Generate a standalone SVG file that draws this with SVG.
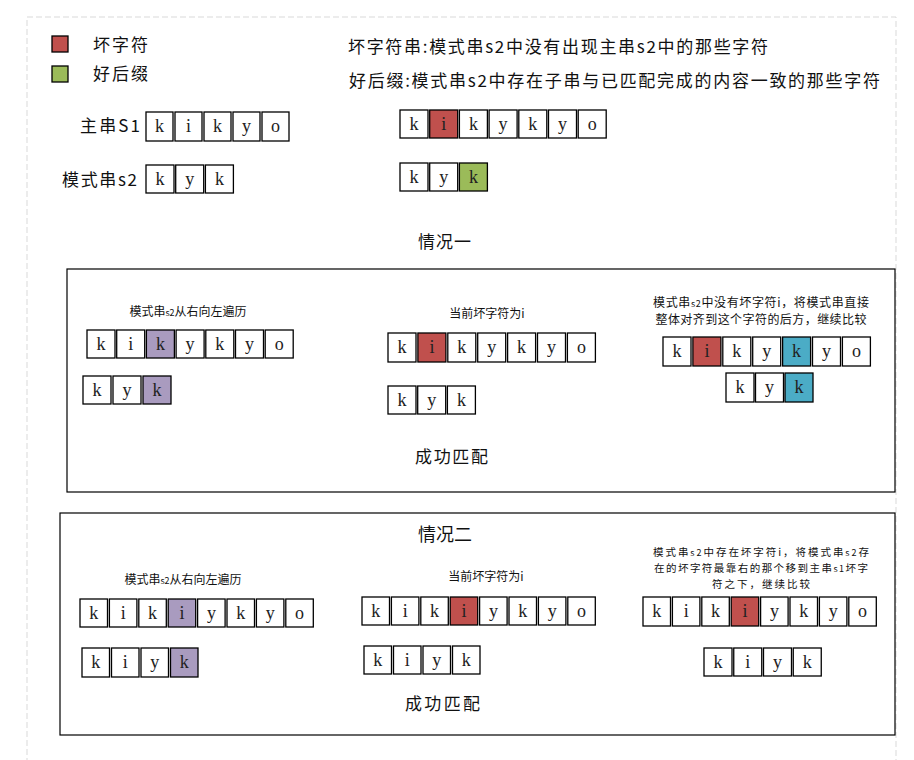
<svg xmlns="http://www.w3.org/2000/svg" width="914" height="760" viewBox="0 0 914 760">
<style>
.bg{fill:#fff}
.frame{fill:none;stroke:#d9d9d9;stroke-width:1;stroke-dasharray:6 3}
.box{fill:#fff;stroke:#000;stroke-width:1.2}
.c{fill:#fff;stroke:#000;stroke-width:1.3}
.red{fill:#c0504d}
.grn{fill:#9bbb59}
.pur{fill:#a99bbf}
.blu{fill:#4bacc6}
.l{font-family:"Liberation Serif","DejaVu Serif",serif;font-size:18px;fill:#222;text-anchor:middle}
.h{font-family:"Noto Sans CJK SC","Noto Sans",sans-serif;font-size:17px;fill:#111}
.s{font-family:"Noto Sans CJK SC","Noto Sans",sans-serif;font-size:12px;fill:#111;text-anchor:middle}
.s2{font-size:10.5px}
.sm{font-size:9px}
</style>
<rect class="bg" x="0" y="0" width="914" height="760"/>
<rect class="frame" x="27" y="17" width="869" height="760"/>

<g id="legend-bad">
<rect class="c red" x="52" y="36" width="16" height="16"/>
<text class="h" x="93" y="51" textLength="55">坏字符</text>
</g>
<g id="legend-good">
<rect class="c grn" x="52" y="66" width="16" height="16"/>
<text class="h" x="93" y="80" textLength="55">好后缀</text>
</g>
<g id="def-bad"><text class="h" x="348" y="53" textLength="420">坏字符串:模式串s2中没有出现主串s2中的那些字符</text></g>
<g id="def-good"><text class="h" x="349" y="87" textLength="531">好后缀:模式串s2中存在子串与已匹配完成的内容一致的那些字符</text></g>

<g id="label-s1"><text class="h" x="80" y="132" textLength="60">主串S1</text></g>
<g id="top-s1">
<rect class="c" x="146" y="112" width="27" height="29"/><text class="l" x="159.5" y="132">k</text>
<rect class="c" x="175" y="112" width="27" height="29"/><text class="l" x="188.5" y="132">i</text>
<rect class="c" x="204" y="112" width="27" height="29"/><text class="l" x="217.5" y="132">k</text>
<rect class="c" x="233" y="112" width="27" height="29"/><text class="l" x="246.5" y="132">y</text>
<rect class="c" x="262" y="112" width="27" height="29"/><text class="l" x="275.5" y="132">o</text>
</g>
<g id="label-s2"><text class="h" x="62" y="186" textLength="75">模式串s2</text></g>
<g id="top-s2">
<rect class="c" x="146" y="165" width="28" height="28"/><text class="l" x="160" y="185">k</text>
<rect class="c" x="175.7" y="165" width="28" height="28"/><text class="l" x="189.7" y="185">y</text>
<rect class="c" x="205.4" y="165" width="28" height="28"/><text class="l" x="219.4" y="185">k</text>
</g>

<g id="example-s1">
<rect class="c" x="400" y="110" width="28" height="28"/><text class="l" x="414" y="130">k</text>
<rect class="c red" x="429.7" y="110" width="28" height="28"/><text class="l" x="443.7" y="130">i</text>
<rect class="c" x="459.4" y="110" width="28" height="28"/><text class="l" x="473.4" y="130">k</text>
<rect class="c" x="489.1" y="110" width="28" height="28"/><text class="l" x="503.1" y="130">y</text>
<rect class="c" x="518.8" y="110" width="28" height="28"/><text class="l" x="532.8" y="130">k</text>
<rect class="c" x="548.5" y="110" width="28" height="28"/><text class="l" x="562.5" y="130">y</text>
<rect class="c" x="578.2" y="110" width="28" height="28"/><text class="l" x="592.2" y="130">o</text>
</g>
<g id="example-s2">
<rect class="c" x="400" y="163" width="28" height="28"/><text class="l" x="414" y="183">k</text>
<rect class="c" x="429.7" y="163" width="28" height="28"/><text class="l" x="443.7" y="183">y</text>
<rect class="c grn" x="459.4" y="163" width="28" height="28"/><text class="l" x="473.4" y="183">k</text>
</g>

<g id="case1-title"><text class="h" x="418" y="248" textLength="53">情况一</text></g>

<g id="case1">
<rect class="box" x="67" y="269" width="828" height="223"/>
<text class="s" x="188" y="316">模式串<tspan class="sm">s2</tspan>从右向左遍历</text>
<g id="c1-left-s1">
<rect class="c" x="87" y="330" width="28" height="28"/><text class="l" x="101" y="350">k</text>
<rect class="c" x="116.7" y="330" width="28" height="28"/><text class="l" x="130.7" y="350">i</text>
<rect class="c pur" x="146.4" y="330" width="28" height="28"/><text class="l" x="160.4" y="350">k</text>
<rect class="c" x="176.1" y="330" width="28" height="28"/><text class="l" x="190.1" y="350">y</text>
<rect class="c" x="205.8" y="330" width="28" height="28"/><text class="l" x="219.8" y="350">k</text>
<rect class="c" x="235.5" y="330" width="28" height="28"/><text class="l" x="249.5" y="350">y</text>
<rect class="c" x="265.2" y="330" width="28" height="28"/><text class="l" x="279.2" y="350">o</text>
</g>
<g id="c1-left-s2">
<rect class="c" x="83" y="376" width="28" height="28"/><text class="l" x="97" y="396">k</text>
<rect class="c" x="113" y="376" width="28" height="28"/><text class="l" x="127" y="396">y</text>
<rect class="c pur" x="143" y="376" width="28" height="28"/><text class="l" x="157" y="396">k</text>
</g>
<text class="s" x="487" y="318">当前坏字符为i</text>
<g id="c1-mid-s1">
<rect class="c" x="388" y="333" width="28" height="29"/><text class="l" x="402" y="353">k</text>
<rect class="c red" x="417.9" y="333" width="28" height="29"/><text class="l" x="431.9" y="353">i</text>
<rect class="c" x="447.8" y="333" width="28" height="29"/><text class="l" x="461.8" y="353">k</text>
<rect class="c" x="477.7" y="333" width="28" height="29"/><text class="l" x="491.7" y="353">y</text>
<rect class="c" x="507.6" y="333" width="28" height="29"/><text class="l" x="521.6" y="353">k</text>
<rect class="c" x="537.5" y="333" width="28" height="29"/><text class="l" x="551.5" y="353">y</text>
<rect class="c" x="567.4" y="333" width="28" height="29"/><text class="l" x="581.4" y="353">o</text>
</g>
<g id="c1-mid-s2">
<rect class="c" x="388" y="386" width="28" height="28"/><text class="l" x="402" y="406">k</text>
<rect class="c" x="417.7" y="386" width="28" height="28"/><text class="l" x="431.7" y="406">y</text>
<rect class="c" x="447.4" y="386" width="28" height="28"/><text class="l" x="461.4" y="406">k</text>
</g>
<text class="s" x="761" y="307" textLength="216">模式串<tspan class="sm">s2</tspan>中没有坏字符i，将模式串直接</text>
<text class="s" x="761" y="324" textLength="211">整体对齐到这个字符的后方，继续比较</text>
<g id="c1-right-s1">
<rect class="c" x="663" y="337" width="28" height="29"/><text class="l" x="677" y="357">k</text>
<rect class="c red" x="692.9" y="337" width="28" height="29"/><text class="l" x="706.9" y="357">i</text>
<rect class="c" x="722.8" y="337" width="28" height="29"/><text class="l" x="736.8" y="357">k</text>
<rect class="c" x="752.7" y="337" width="28" height="29"/><text class="l" x="766.7" y="357">y</text>
<rect class="c blu" x="782.6" y="337" width="28" height="29"/><text class="l" x="796.6" y="357">k</text>
<rect class="c" x="812.5" y="337" width="28" height="29"/><text class="l" x="826.5" y="357">y</text>
<rect class="c" x="842.4" y="337" width="28" height="29"/><text class="l" x="856.4" y="357">o</text>
</g>
<g id="c1-right-s2">
<rect class="c" x="726" y="373" width="28" height="29"/><text class="l" x="740" y="393">k</text>
<rect class="c" x="755.5" y="373" width="28" height="29"/><text class="l" x="769.5" y="393">y</text>
<rect class="c blu" x="785" y="373" width="28" height="29"/><text class="l" x="799" y="393">k</text>
</g>
<text class="h" x="415" y="463" textLength="73">成功匹配</text>
</g>

<g id="case2">
<rect class="box" x="60" y="513" width="835" height="222"/>
<text class="h" x="418" y="541" style="font-size:18px">情况二</text>
<text class="s" x="183" y="584">模式串<tspan class="sm">s2</tspan>从右向左遍历</text>
<g id="c2-left-s1">
<rect class="c" x="80" y="599" width="27.5" height="28"/><text class="l" x="93.8" y="619">k</text>
<rect class="c" x="109.4" y="599" width="27.5" height="28"/><text class="l" x="123.2" y="619">i</text>
<rect class="c" x="138.8" y="599" width="27.5" height="28"/><text class="l" x="152.6" y="619">k</text>
<rect class="c pur" x="168.2" y="599" width="27.5" height="28"/><text class="l" x="182" y="619">i</text>
<rect class="c" x="197.6" y="599" width="27.5" height="28"/><text class="l" x="211.4" y="619">y</text>
<rect class="c" x="227" y="599" width="27.5" height="28"/><text class="l" x="240.8" y="619">k</text>
<rect class="c" x="256.4" y="599" width="27.5" height="28"/><text class="l" x="270.2" y="619">y</text>
<rect class="c" x="285.8" y="599" width="27.5" height="28"/><text class="l" x="299.6" y="619">o</text>
</g>
<g id="c2-left-s2">
<rect class="c" x="82" y="648" width="27.5" height="29"/><text class="l" x="95.8" y="668">k</text>
<rect class="c" x="111.5" y="648" width="27.5" height="29"/><text class="l" x="125.3" y="668">i</text>
<rect class="c" x="141" y="648" width="27.5" height="29"/><text class="l" x="154.8" y="668">y</text>
<rect class="c pur" x="170.5" y="648" width="27.5" height="29"/><text class="l" x="184.3" y="668">k</text>
</g>
<text class="s" x="486" y="581">当前坏字符为i</text>
<g id="c2-mid-s1">
<rect class="c" x="362" y="597" width="27.5" height="28"/><text class="l" x="375.8" y="617">k</text>
<rect class="c" x="391.4" y="597" width="27.5" height="28"/><text class="l" x="405.2" y="617">i</text>
<rect class="c" x="420.8" y="597" width="27.5" height="28"/><text class="l" x="434.6" y="617">k</text>
<rect class="c red" x="450.2" y="597" width="27.5" height="28"/><text class="l" x="464" y="617">i</text>
<rect class="c" x="479.6" y="597" width="27.5" height="28"/><text class="l" x="493.4" y="617">y</text>
<rect class="c" x="509" y="597" width="27.5" height="28"/><text class="l" x="522.8" y="617">k</text>
<rect class="c" x="538.4" y="597" width="27.5" height="28"/><text class="l" x="552.2" y="617">y</text>
<rect class="c" x="567.8" y="597" width="27.5" height="28"/><text class="l" x="581.6" y="617">o</text>
</g>
<g id="c2-mid-s2">
<rect class="c" x="364" y="646" width="27.5" height="28"/><text class="l" x="377.8" y="666">k</text>
<rect class="c" x="393.5" y="646" width="27.5" height="28"/><text class="l" x="407.3" y="666">i</text>
<rect class="c" x="423" y="646" width="27.5" height="28"/><text class="l" x="436.8" y="666">y</text>
<rect class="c" x="452.5" y="646" width="27.5" height="28"/><text class="l" x="466.3" y="666">k</text>
</g>
<text class="s s2" x="761" y="556" textLength="216">模式串<tspan class="sm">s2</tspan>中存在坏字符i，将模式串<tspan class="sm">s2</tspan>存</text>
<text class="s s2" x="761" y="572" textLength="214">在的坏字符最靠右的那个移到主串<tspan class="sm">s1</tspan>坏字</text>
<text class="s s2" x="761" y="588" textLength="98">符之下，继续比较</text>
<g id="c2-right-s1">
<rect class="c" x="643" y="597" width="27.5" height="29"/><text class="l" x="656.8" y="617">k</text>
<rect class="c" x="672.4" y="597" width="27.5" height="29"/><text class="l" x="686.2" y="617">i</text>
<rect class="c" x="701.8" y="597" width="27.5" height="29"/><text class="l" x="715.6" y="617">k</text>
<rect class="c red" x="731.2" y="597" width="27.5" height="29"/><text class="l" x="745" y="617">i</text>
<rect class="c" x="760.6" y="597" width="27.5" height="29"/><text class="l" x="774.4" y="617">y</text>
<rect class="c" x="790" y="597" width="27.5" height="29"/><text class="l" x="803.8" y="617">k</text>
<rect class="c" x="819.4" y="597" width="27.5" height="29"/><text class="l" x="833.2" y="617">y</text>
<rect class="c" x="848.8" y="597" width="27.5" height="29"/><text class="l" x="862.6" y="617">o</text>
</g>
<g id="c2-right-s2">
<rect class="c" x="704" y="648" width="28" height="28"/><text class="l" x="718" y="668">k</text>
<rect class="c" x="733.75" y="648" width="28" height="28"/><text class="l" x="747.75" y="668">i</text>
<rect class="c" x="763.5" y="648" width="28" height="28"/><text class="l" x="777.5" y="668">y</text>
<rect class="c" x="793.25" y="648" width="28" height="28"/><text class="l" x="807.25" y="668">k</text>
</g>
<text class="h" x="405" y="710" textLength="75">成功匹配</text>
</g>

<g id="connectors"/>
</svg>
